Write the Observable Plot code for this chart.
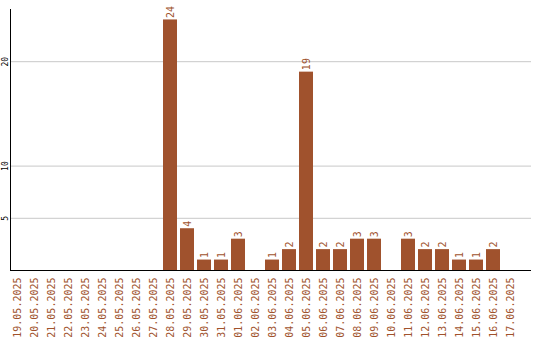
<!DOCTYPE html>
<html><head><meta charset="utf-8">
<script src="https://cdn.jsdelivr.net/npm/d3@7"></script>
<script src="https://cdn.jsdelivr.net/npm/@observablehq/plot@0.6"></script>
<style>body{margin:0;background:#fff}</style>
</head><body><div id="chart"></div>
<script>
const dates = ["19.05.2025","20.05.2025","21.05.2025","22.05.2025","23.05.2025","24.05.2025","25.05.2025","26.05.2025","27.05.2025","28.05.2025","29.05.2025","30.05.2025","31.05.2025","01.06.2025","02.06.2025","03.06.2025","04.06.2025","05.06.2025","06.06.2025","07.06.2025","08.06.2025","09.06.2025","10.06.2025","11.06.2025","12.06.2025","13.06.2025","14.06.2025","15.06.2025","16.06.2025","17.06.2025"];
const counts = [0,0,0,0,0,0,0,0,0,24,4,1,1,3,0,1,2,19,2,2,3,3,0,3,2,2,1,1,2,0];
const yTicks = [5,10,20];
const data = dates.map((d,i)=>({date:d, count:counts[i]}));
const chart = Plot.plot({
  width:540, height:340, marginTop:9, marginBottom:70, marginLeft:10, marginRight:9,
  style:{fontFamily:"'DejaVu Sans Mono', monospace", background:"#fff"},
  x:{type:"band", domain:dates, range:[10,516.6], paddingInner:0.2, paddingOuter:0},
  y:{domain:[0,25]},
  marks:[
    Plot.ruleY(yTicks, {stroke:"#c8c8c8", strokeOpacity:1}),
    Plot.barY(data, {x:"date", y:"count", fill:"#a0522d"}),
    Plot.text(data.filter(d=>d.count>0), {x:"date", y:"count", text:"count", rotate:-90, textAnchor:"start", dy:-2, fill:"#a0522d", fontSize:10}),
    Plot.axisX({tickRotate:-90, tickSize:0, tickPadding:7, fill:"#a0522d", fontSize:10, label:null}),
    Plot.axisY({ticks:yTicks, tickRotate:-90, tickSize:0, tickPadding:3, fill:"#000", fontSize:8, label:null}),
    Plot.ruleY([0], {stroke:"#000"}),
    Plot.frame({anchor:"left", stroke:"#000"})
  ]
});
document.getElementById("chart").append(chart);
</script></body></html>
